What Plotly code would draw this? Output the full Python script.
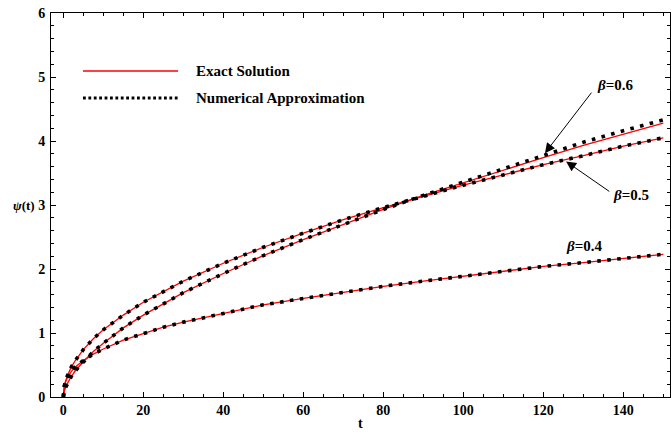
import plotly.graph_objects as go

# ---- data ----
t = [0, 0.1, 0.25, 0.5, 1, 2, 3, 5, 7.5, 10, 15, 20, 25, 30, 40, 50, 60, 70,
     80, 90, 100, 110, 120, 130, 140, 150]

exact_b05 = [0, 0.105, 0.165, 0.23, 0.33, 0.47, 0.57, 0.74, 0.91, 1.05, 1.28, 1.48,
             1.65, 1.81, 2.09, 2.34, 2.56, 2.77, 2.96, 3.14, 3.31, 3.47, 3.63, 3.77,
             3.92, 4.05]
exact_b06 = [0, 0.053, 0.093, 0.14, 0.21, 0.32, 0.41, 0.55, 0.71, 0.84, 1.08, 1.28,
             1.46, 1.63, 1.93, 2.21, 2.46, 2.70, 2.93, 3.15, 3.35, 3.55, 3.74, 3.93,
             4.11, 4.28]
exact_b04 = [0, 0.12, 0.17, 0.23, 0.30, 0.40, 0.47, 0.57, 0.67, 0.75, 0.89, 0.99,
             1.09, 1.17, 1.31, 1.44, 1.54, 1.64, 1.73, 1.81, 1.89, 1.97, 2.04, 2.10,
             2.17, 2.23]

num_b05 = [0, 0.105, 0.165, 0.23, 0.33, 0.47, 0.57, 0.74, 0.91, 1.05, 1.28, 1.48,
           1.65, 1.81, 2.09, 2.34, 2.56, 2.77, 2.96, 3.14, 3.31, 3.47, 3.63, 3.77,
           3.92, 4.05]
num_b06 = [0, 0.053, 0.093, 0.14, 0.21, 0.32, 0.41, 0.55, 0.71, 0.84, 1.08, 1.28,
           1.46, 1.63, 1.93, 2.21, 2.46, 2.70, 2.93, 3.15, 3.36, 3.57, 3.78, 3.98,
           4.16, 4.33]
num_b04 = [0, 0.12, 0.17, 0.23, 0.30, 0.40, 0.47, 0.57, 0.67, 0.75, 0.89, 0.99,
           1.09, 1.17, 1.31, 1.44, 1.54, 1.64, 1.73, 1.81, 1.89, 1.97, 2.04, 2.10,
           2.17, 2.23]

x_ticks = [0, 20, 40, 60, 80, 100, 120, 140]
y_ticks = [0, 1, 2, 3, 4, 5, 6]

# ---- figure ----
FONT = "Liberation Serif"
fig = go.Figure()

for ys in (exact_b05, exact_b06, exact_b04):
    fig.add_trace(go.Scatter(x=t, y=ys, mode="lines",
                             line=dict(color="#ff0000", width=1.3),
                             showlegend=False, hoverinfo="skip"))
for ys in (num_b05, num_b06, num_b04):
    fig.add_trace(go.Scatter(x=t, y=ys, mode="lines",
                             line=dict(color="black", width=3.6, dash="3.6px,6.4px"),
                             showlegend=False, hoverinfo="skip"))

W, H = 671, 433
L, R, T, B = 51, 1, 13, 36
pw, ph = W - L - R, H - T - B


def px(xp):
    return (xp - L) / pw


def py(yp):
    return (H - B - yp) / ph


# manual legend
fig.add_shape(type="line", xref="paper", yref="paper",
              x0=px(83), x1=px(178), y0=py(71), y1=py(71),
              line=dict(color="#ff0000", width=1.3))
fig.add_shape(type="line", xref="paper", yref="paper",
              x0=px(83), x1=px(178), y0=py(98), y1=py(98),
              line=dict(color="black", width=3, dash="2.8px,2.6px"))

ann = []
ann.append(dict(xref="paper", yref="paper", x=px(194), y=py(71), xanchor="left",
                yanchor="middle", showarrow=False, text="<b>Exact Solution</b>",
                font=dict(family=FONT, size=15, color="black")))
ann.append(dict(xref="paper", yref="paper", x=px(194), y=py(98), xanchor="left",
                yanchor="middle", showarrow=False, text="<b>Numerical Approximation</b>",
                font=dict(family=FONT, size=15, color="black")))

# beta labels
for xc, yc, lab in ((615, 85, "0.6"), (631, 195, "0.5"), (584, 246, "0.4")):
    ann.append(dict(xref="paper", yref="paper", x=px(xc), y=py(yc), showarrow=False,
                    xanchor="center", yanchor="middle",
                    text=f"<b><i>β</i>={lab}</b>",
                    font=dict(family=FONT, size=15, color="black")))

# arrows
ann.append(dict(x=120.4, y=3.81, xref="x", yref="y", ax=47.7, ay=-62, text="",
                showarrow=True, arrowhead=2, arrowsize=2, arrowwidth=1,
                arrowcolor="black"))
ann.append(dict(x=125.7, y=3.68, xref="x", yref="y", ax=44.7, ay=31, text="",
                showarrow=True, arrowhead=2, arrowsize=2, arrowwidth=1,
                arrowcolor="black"))

# axis titles
ann.append(dict(xref="paper", yref="paper", x=0.5, y=py(433), showarrow=False,
                text="<b>t</b>", font=dict(family=FONT, size=14, color="black"),
                xanchor="center", yanchor="bottom"))
ann.append(dict(xref="paper", yref="paper", x=px(23.5), y=py(205), showarrow=False,
                text="<b><i>ψ</i>(t)</b>", font=dict(family=FONT, size=13, color="black"),
                xanchor="center", yanchor="middle"))

axis_common = dict(showline=True, linecolor="black", linewidth=1, mirror="ticks",
                   ticks="inside", ticklen=5, tickwidth=1, tickcolor="black",
                   showgrid=False, zeroline=False,
                   tickfont=dict(family=FONT, size=14, color="black"))

fig.update_layout(
    width=W, height=H,
    margin=dict(l=L, r=R, t=T, b=B),
    plot_bgcolor="white", paper_bgcolor="white",
    showlegend=False,
    xaxis=dict(range=[-3.08, 151.67], tickvals=x_ticks,
               ticktext=[f"<b>{v}</b>" for v in x_ticks],
               minor=dict(dtick=5, tick0=0, ticks="inside", ticklen=3,
                          tickcolor="black", showgrid=False),
               **axis_common),
    yaxis=dict(range=[0, 6], tickvals=y_ticks,
               ticktext=[f"<b>{v}</b>" for v in y_ticks],
               ticklabelstandoff=2,
               minor=dict(dtick=0.2, tick0=0, ticks="inside", ticklen=3,
                          tickcolor="black", showgrid=False),
               **axis_common),
    annotations=ann,
)

fig.write_html("out.html", config={"displayModeBar": False},
               post_script="document.body.style.margin='0';document.body.style.overflow='hidden';")
